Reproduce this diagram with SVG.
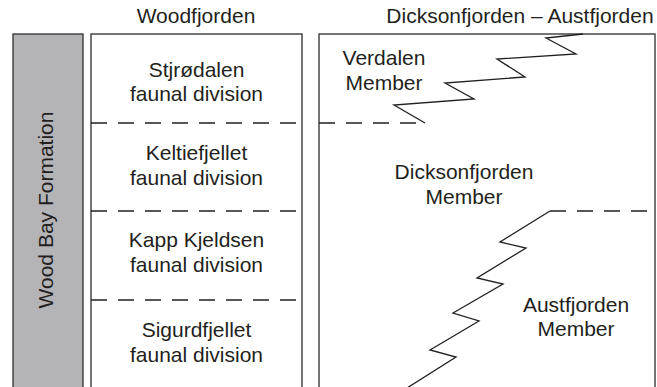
<svg xmlns="http://www.w3.org/2000/svg" width="657" height="387" viewBox="0 0 657 387">
<style>
text{font-family:"Liberation Sans",Arial,sans-serif;font-size:21px;fill:#231f20;text-anchor:middle}
.box{fill:#fff;stroke:#3a3a3a;stroke-width:1.4}
.dash{fill:none;stroke:#231f20;stroke-width:1.3;stroke-dasharray:16 11}
.zig{fill:none;stroke:#231f20;stroke-width:1.3;stroke-linejoin:miter}
</style>
<rect width="657" height="387" fill="#fff"/>
<g id="headers">
<text x="196" y="23">Woodfjorden</text>
<text x="520" y="23">Dicksonfjorden – Austfjorden</text>
</g>
<g id="formation">
<rect x="13" y="34" width="70" height="366" fill="#b4b4b7" stroke="#3a3a3a" stroke-width="1.4"/>
<text transform="translate(53,210) rotate(-90)">Wood Bay Formation</text>
</g>
<g id="woodfjorden">
<rect class="box" x="91" y="34" width="211" height="366"/>
</g>
<g id="dicksonfjorden-austfjorden">
<rect class="box" x="319" y="34" width="336" height="366"/>
</g>
<g id="connectors">
<line class="dash" x1="91" y1="123" x2="302" y2="123"/>
<line class="dash" x1="91" y1="211" x2="302" y2="211"/>
<line class="dash" x1="91" y1="300" x2="302" y2="300"/>
<line class="dash" x1="319" y1="123" x2="425" y2="123"/>
<line class="dash" x1="550" y1="211" x2="655" y2="211"/>
<polyline class="zig" points="583,34 546,38 576,54 497,59 525,77 445,83 474,99 394,105 425,123"/>
<polyline class="zig" points="550,211 500,242 526,248 477,278 503,284 453,313 479,321 430,350 456,357 407,388"/>
</g>
<g id="stjrodalen">
<text x="196.5" y="77">Stjrødalen</text>
<text x="196.5" y="101">faunal division</text>
</g>
<g id="keltiefjellet">
<text x="196.5" y="160">Keltiefjellet</text>
<text x="196.5" y="185">faunal division</text>
</g>
<g id="kapp-kjeldsen">
<text x="196.5" y="247">Kapp Kjeldsen</text>
<text x="196.5" y="272">faunal division</text>
</g>
<g id="sigurdfjellet">
<text x="196.5" y="337">Sigurdfjellet</text>
<text x="196.5" y="362">faunal division</text>
</g>
<g id="verdalen">
<text x="384" y="65">Verdalen</text>
<text x="384" y="90">Member</text>
</g>
<g id="dicksonfjorden">
<text x="464" y="179">Dicksonfjorden</text>
<text x="464" y="204">Member</text>
</g>
<g id="austfjorden">
<text x="576" y="312">Austfjorden</text>
<text x="576" y="336">Member</text>
</g>
</svg>
